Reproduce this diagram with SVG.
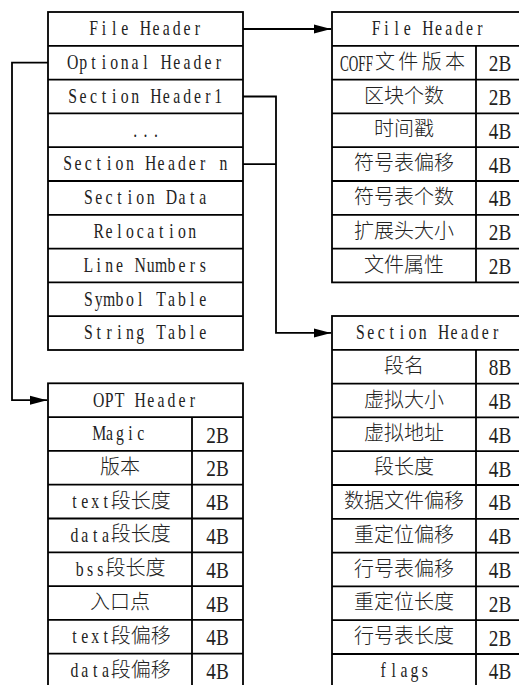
<svg xmlns="http://www.w3.org/2000/svg" width="519" height="685" viewBox="0 0 519 685">
<style>
.box{fill:#fff;stroke:#000;stroke-width:1.8}
.ln{fill:none;stroke:#000;stroke-width:1.8}
.m{font-family:"Liberation Serif",serif;font-size:21px;text-anchor:middle;fill:#222}
.c{font-family:"Noto Sans CJK SC",sans-serif;font-size:20px;font-weight:300;text-anchor:middle;fill:#222}
.cs{font-family:"Noto Sans CJK SC",sans-serif;font-size:20px;font-weight:300;text-anchor:start;fill:#222}
.v{font-family:"Liberation Serif",serif;font-size:24px;text-anchor:middle;fill:#222}
.conn{fill:none;stroke:#000;stroke-width:1.8}
</style>
<defs>
<marker id="arr" markerUnits="userSpaceOnUse" markerWidth="18" markerHeight="10" refX="17" refY="5" orient="auto">
<path d="M0,0.5 L17,5 L0,9.5 Z" fill="#000"/>
</marker>
</defs>
<rect width="519" height="685" fill="#fff"/>

<g id="connectors">
<path class="conn" d="M243,29 H331" marker-end="url(#arr)"/>
<path class="conn" d="M48,62.7 H12 V400.2 H47" marker-end="url(#arr)"/>
<path class="conn" d="M243,96.5 H276 V332.9 H331" marker-end="url(#arr)"/>
<path class="conn" d="M243,164.1 H276"/>
</g>

<g id="coff-layout">
<rect class="box" x="48" y="12" width="195" height="338"/>
<path class="ln" d="M48,45.8H243M48,79.6H243M48,113.4H243M48,147.2H243M48,181H243M48,214.8H243M48,248.6H243M48,282.4H243M48,316.2H243"/>
<text class="m" transform="translate(145.5,35.2) scale(0.75,1)" x="-69.33 -55.47 -41.6 -27.73 -13.87 0 13.87 27.73 41.6 55.47 69.33">File Header</text>
<text class="m" transform="translate(145.5,69) scale(0.75,1)" x="-97.07 -83.2 -69.33 -55.47 -41.6 -27.73 -13.87 0 13.87 27.73 41.6 55.47 69.33 83.2 97.07">Optional Header</text>
<text class="m" transform="translate(145.5,102.8) scale(0.75,1)" x="-97.07 -83.2 -69.33 -55.47 -41.6 -27.73 -13.87 0 13.87 27.73 41.6 55.47 69.33 83.2 97.07">Section Header1</text>
<text class="m" transform="translate(145.5,136.6) scale(0.75,1)" x="-13.87 0 13.87">...</text>
<text class="m" transform="translate(145.5,170.4) scale(0.75,1)" x="-104 -90.13 -76.27 -62.4 -48.53 -34.67 -20.8 -6.93 6.93 20.8 34.67 48.53 62.4 76.27 90.13 104">Section Header n</text>
<text class="m" transform="translate(145.5,204.2) scale(0.75,1)" x="-76.27 -62.4 -48.53 -34.67 -20.8 -6.93 6.93 20.8 34.67 48.53 62.4 76.27">Section Data</text>
<text class="m" transform="translate(145.5,238) scale(0.75,1)" x="-62.4 -48.53 -34.67 -20.8 -6.93 6.93 20.8 34.67 48.53 62.4">Relocation</text>
<text class="m" transform="translate(145.5,271.8) scale(0.75,1)" x="-76.27 -62.4 -48.53 -34.67 -20.8 -6.93 6.93 20.8 34.67 48.53 62.4 76.27">Line Numbers</text>
<text class="m" transform="translate(145.5,305.6) scale(0.75,1)" x="-76.27 -62.4 -48.53 -34.67 -20.8 -6.93 6.93 20.8 34.67 48.53 62.4 76.27">Symbol Table</text>
<text class="m" transform="translate(145.5,339.4) scale(0.75,1)" x="-76.27 -62.4 -48.53 -34.67 -20.8 -6.93 6.93 20.8 34.67 48.53 62.4 76.27">String Table</text>
</g>

<g id="file-header">
<rect class="box" x="332" y="12" width="192" height="270.4"/>
<path class="ln" d="M332,45.8H524M332,79.6H524M332,113.4H524M332,147.2H524M332,181H524M332,214.8H524M332,248.6H524M476,45.8V282.4"/>
<text class="m" transform="translate(428,35.2) scale(0.75,1)" x="-69.33 -55.47 -41.6 -27.73 -13.87 0 13.87 27.73 41.6 55.47 69.33">File Header</text>
<text class="v" transform="translate(340,71.2) scale(0.55,1)" style="text-anchor:start">COFF</text>
<text class="cs" x="375" y="68.7" textLength="90">文件版本</text>
<text class="c" x="404" y="102.5">区块个数</text>
<text class="c" x="404" y="136.3">时间戳</text>
<text class="c" x="404" y="170.1">符号表偏移</text>
<text class="c" x="404" y="203.9">符号表个数</text>
<text class="c" x="404" y="237.7">扩展头大小</text>
<text class="c" x="404" y="271.5">文件属性</text>
<text class="v" transform="translate(500,71.2) scale(0.8,1)">2B</text>
<text class="v" transform="translate(500,105) scale(0.8,1)">2B</text>
<text class="v" transform="translate(500,138.8) scale(0.8,1)">4B</text>
<text class="v" transform="translate(500,172.6) scale(0.8,1)">4B</text>
<text class="v" transform="translate(500,206.4) scale(0.8,1)">4B</text>
<text class="v" transform="translate(500,240.2) scale(0.8,1)">2B</text>
<text class="v" transform="translate(500,274) scale(0.8,1)">2B</text>
</g>

<g id="section-header">
<rect class="box" x="332" y="316" width="192" height="371.8"/>
<path class="ln" d="M332,349.8H524M332,383.6H524M332,417.4H524M332,451.2H524M332,485H524M332,518.8H524M332,552.6H524M332,586.4H524M332,620.2H524M332,654H524M476,349.8V687.8"/>
<text class="m" transform="translate(428,339.2) scale(0.75,1)" x="-90.13 -76.27 -62.4 -48.53 -34.67 -20.8 -6.93 6.93 20.8 34.67 48.53 62.4 76.27 90.13">Section Header</text>
<text class="c" x="404" y="372.7">段名</text>
<text class="c" x="404" y="406.5">虚拟大小</text>
<text class="c" x="404" y="440.3">虚拟地址</text>
<text class="c" x="404" y="474.1">段长度</text>
<text class="c" x="404" y="507.9">数据文件偏移</text>
<text class="c" x="404" y="541.7">重定位偏移</text>
<text class="c" x="404" y="575.5">行号表偏移</text>
<text class="c" x="404" y="609.3">重定位长度</text>
<text class="c" x="404" y="643.1">行号表长度</text>
<text class="m" transform="translate(404,677.2) scale(0.75,1)" x="-27.73 -13.87 0 13.87 27.73">flags</text>
<text class="v" transform="translate(500,375.2) scale(0.8,1)">8B</text>
<text class="v" transform="translate(500,409) scale(0.8,1)">4B</text>
<text class="v" transform="translate(500,442.8) scale(0.8,1)">4B</text>
<text class="v" transform="translate(500,476.6) scale(0.8,1)">4B</text>
<text class="v" transform="translate(500,510.4) scale(0.8,1)">4B</text>
<text class="v" transform="translate(500,544.2) scale(0.8,1)">4B</text>
<text class="v" transform="translate(500,578) scale(0.8,1)">4B</text>
<text class="v" transform="translate(500,611.8) scale(0.8,1)">2B</text>
<text class="v" transform="translate(500,645.6) scale(0.8,1)">2B</text>
<text class="v" transform="translate(500,679.4) scale(0.8,1)">4B</text>
</g>

<g id="opt-header">
<rect class="box" x="48" y="383.3" width="195" height="304.2"/>
<path class="ln" d="M48,417.1H243M48,450.9H243M48,484.7H243M48,518.5H243M48,552.3H243M48,586.1H243M48,619.9H243M48,653.7H243M192,417.1V687.5"/>
<text class="m" transform="translate(145.5,406.5) scale(0.75,1)" x="-62.4 -48.53 -34.67 -20.8 -6.93 6.93 20.8 34.67 48.53 62.4">OPT Header</text>
<text class="m" transform="translate(120,440.3) scale(0.75,1)" x="-27.73 -13.87 0 13.87 27.73">Magic</text>
<text class="c" x="120" y="473.8">版本</text>
<text class="m" transform="translate(90,507.9) scale(0.75,1)" x="-20.8 -6.93 6.93 20.8">text</text><text class="cs" x="110.8" y="507.6">段长度</text>
<text class="m" transform="translate(90,541.7) scale(0.75,1)" x="-20.8 -6.93 6.93 20.8">data</text><text class="cs" x="110.8" y="541.4">段长度</text>
<text class="m" transform="translate(90,575.5) scale(0.75,1)" x="-13.87 0 13.87">bss</text><text class="cs" x="105.6" y="575.2">段长度</text>
<text class="c" x="120" y="609">入口点</text>
<text class="m" transform="translate(90,643.1) scale(0.75,1)" x="-20.8 -6.93 6.93 20.8">text</text><text class="cs" x="110.8" y="642.8">段偏移</text>
<text class="m" transform="translate(90,676.9) scale(0.75,1)" x="-20.8 -6.93 6.93 20.8">data</text><text class="cs" x="110.8" y="676.6">段偏移</text>
<text class="v" transform="translate(217.5,442.5) scale(0.8,1)">2B</text>
<text class="v" transform="translate(217.5,476.3) scale(0.8,1)">2B</text>
<text class="v" transform="translate(217.5,510.1) scale(0.8,1)">4B</text>
<text class="v" transform="translate(217.5,543.9) scale(0.8,1)">4B</text>
<text class="v" transform="translate(217.5,577.7) scale(0.8,1)">4B</text>
<text class="v" transform="translate(217.5,611.5) scale(0.8,1)">4B</text>
<text class="v" transform="translate(217.5,645.3) scale(0.8,1)">4B</text>
<text class="v" transform="translate(217.5,679.1) scale(0.8,1)">4B</text>
</g>
</svg>
